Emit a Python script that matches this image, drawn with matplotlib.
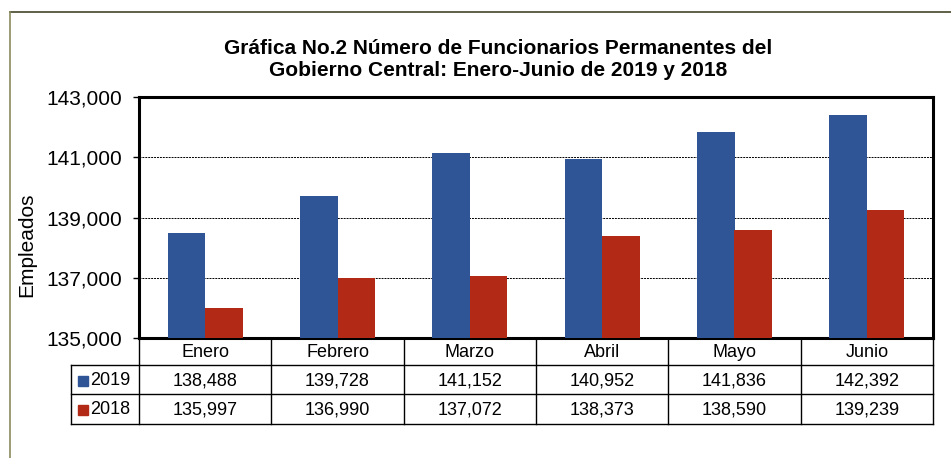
import numpy as np
import matplotlib.pyplot as plt
from matplotlib.patches import Rectangle
from matplotlib.lines import Line2D

# =============================================================================
# Data
# =============================================================================

months = ["Enero", "Febrero", "Marzo", "Abril", "Mayo", "Junio"]
series_names = ["2019", "2018"]
vals_2019 = [138488, 139728, 141152, 140952, 141836, 142392]
vals_2018 = [135997, 136990, 137072, 138373, 138590, 139239]
y_ticks = [135000, 137000, 139000, 141000, 143000]

title = ("Gráfica No.2 Número de Funcionarios Permanentes del\n"
         "Gobierno Central: Enero-Junio de 2019 y 2018")

# =============================================================================
# Style / layout (pixels on a 951x458 canvas)
# =============================================================================

W, H = 951, 458
BLUE = "#2f5597"
RED = "#b22916"
FONT = "Liberation Sans"

plt.rcParams["font.family"] = [FONT, "DejaVu Sans"]

PLOT_L, PLOT_R, PLOT_T, PLOT_B = 139, 933, 97, 338
LEG_L = 71
ROW_EDGES = [338, 365, 394, 424]   # header, 2019, 2018 row boundaries


def px(x, y, w, h):
    return [x / W, (H - y - h) / H, w / W, h / H]


fig = plt.figure(figsize=(W / 100, H / 100), dpi=100)

# outer chart border (only top and left are visible in the source)
fig.add_artist(Line2D([10 / W, 1], [1 - 12 / H, 1 - 12 / H], color="#45452a", lw=1.2))
fig.add_artist(Line2D([10 / W, 10 / W], [0, 1 - 12 / H], color="#8a8a60", lw=1.2))

# =============================================================================
# Bar chart
# =============================================================================

ax = fig.add_axes(px(PLOT_L, PLOT_T, PLOT_R - PLOT_L, PLOT_B - PLOT_T))
x = np.arange(len(months))
bw = 0.284
ax.bar(x - bw / 2, vals_2019, bw, color=BLUE, zorder=3)
ax.bar(x + bw / 2, vals_2018, bw, color=RED, zorder=3)

ax.set_xlim(-0.5, len(months) - 0.5)
ax.set_ylim(y_ticks[0], y_ticks[-1])
ax.set_yticks(y_ticks)
ax.set_yticklabels([f"{v:,}" for v in y_ticks], fontsize=15)
ax.set_xticks([])
ax.tick_params(axis="y", direction="out", length=4.5, width=1, pad=8)
for g in y_ticks[1:-1]:
    ax.axhline(g, color="black", lw=0.7, ls=(0, (2, 1)), zorder=1)
for s in ax.spines.values():
    s.set_linewidth(2.2)

fig.text(27 / W, 1 - 245 / H, "Empleados", rotation=90, ha="center", va="center",
         fontsize=15)

fig.text(498 / W, 1 - 59 / H, title, ha="center", va="center",
         fontsize=15, fontweight="bold", linespacing=1.2)

# =============================================================================
# Data table under the chart
# =============================================================================

col_w = (PLOT_R - PLOT_L) / len(months)
tab = fig.add_axes(px(LEG_L, ROW_EDGES[0], PLOT_R - LEG_L, ROW_EDGES[-1] - ROW_EDGES[0]))
x0 = -0.5 - (PLOT_L - LEG_L) / col_w
tab.set_xlim(x0, len(months) - 0.5)
tab.set_ylim(ROW_EDGES[-1], ROW_EDGES[0])
tab.axis("off")

lc = "black"
lw = 1.0
# horizontal lines
for yy in ROW_EDGES[1:]:
    tab.plot([x0, len(months) - 0.5], [yy, yy], color=lc, lw=lw, clip_on=False)
# vertical lines
for k in range(len(months) + 1):
    xx = k - 0.5
    tab.plot([xx, xx], [ROW_EDGES[0], ROW_EDGES[-1]], color=lc, lw=lw, clip_on=False)
tab.plot([x0, x0], [ROW_EDGES[1], ROW_EDGES[-1]], color=lc, lw=lw, clip_on=False)

# header
for i, m in enumerate(months):
    tab.text(i, (ROW_EDGES[0] + ROW_EDGES[1]) / 2 + 1, m, ha="center", va="center", fontsize=13)

# rows
for r, (name, vals, col) in enumerate(zip(series_names, [vals_2019, vals_2018], [BLUE, RED])):
    yc = (ROW_EDGES[r + 1] + ROW_EDGES[r + 2]) / 2 + 1
    sq = 10 / col_w
    tab.add_patch(Rectangle((x0 + 7 / col_w, yc - 5), sq, 10, color=col, clip_on=False))
    tab.text(x0 + 19 / col_w, yc, name, ha="left", va="center", fontsize=13)
    for i, v in enumerate(vals):
        tab.text(i, yc, f"{v:,}", ha="center", va="center", fontsize=13)

fig.savefig("out.png", dpi=100)
